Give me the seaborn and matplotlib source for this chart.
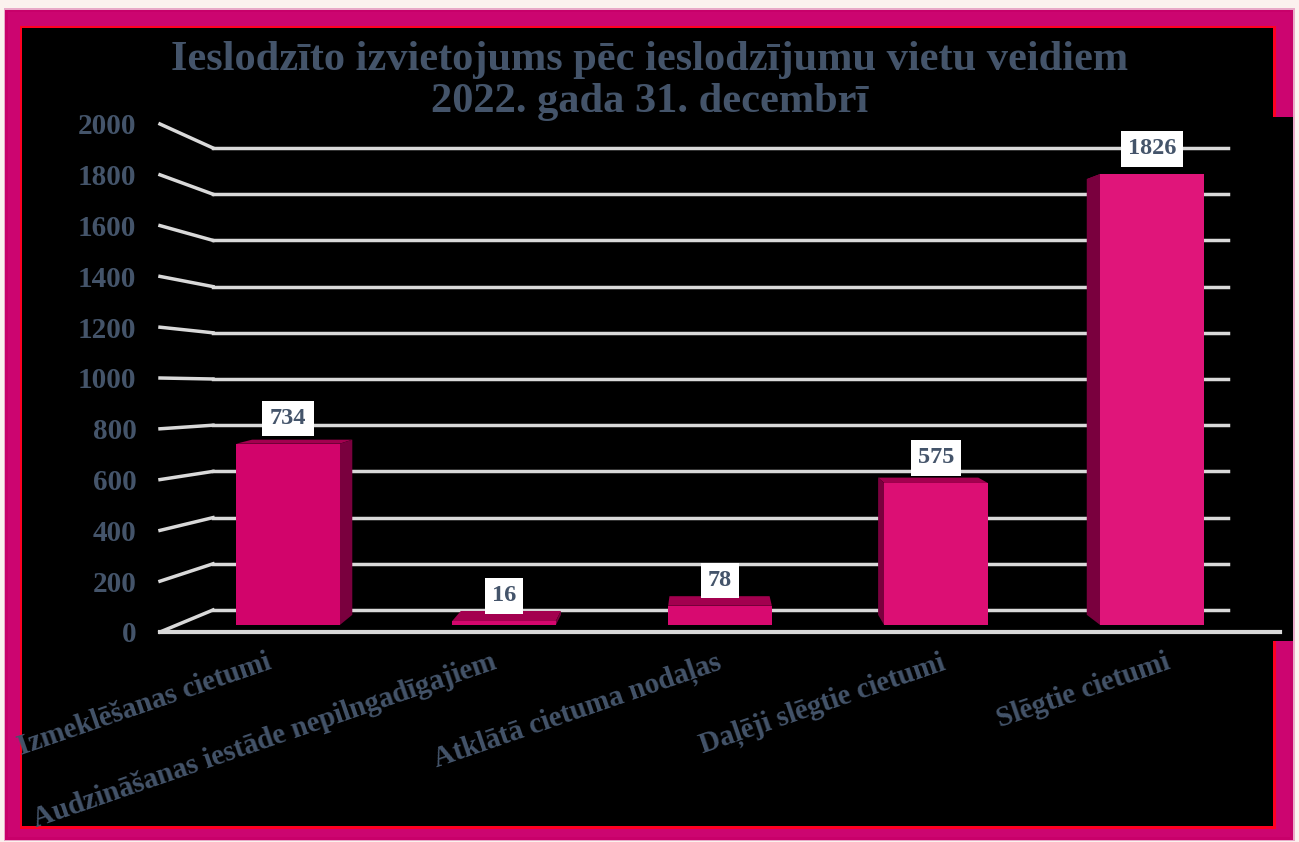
import matplotlib
matplotlib.use("Agg")
import matplotlib.pyplot as plt
from matplotlib.patches import Rectangle, Polygon
from matplotlib.lines import Line2D
from matplotlib.transforms import ScaledTranslation
import seaborn as sns

# Dati
categories = ["Izmeklēšanas cietumi",
              "Audzināšanas iestāde nepilngadīgajiem",
              "Atklātā cietuma nodaļas",
              "Daļēji slēgtie cietumi",
              "Slēgtie cietumi"]
counts = [734, 16, 78, 575, 1826]
y_ticks = [0, 200, 400, 600, 800, 1000, 1200, 1400, 1600, 1800, 2000]
title = "Ieslodzīto izvietojums pēc ieslodzījumu vietu veidiem\n2022. gada 31. decembrī"

bar_colors = ["#D2046B", "#D5066D", "#D80A70", "#DC0F74", "#E0157A"]
side_color = "#7A003E"
top_color = "#A3004F"
text_color = "#44546A"
grid_color = "#D9D9D9"

plt.rcParams['font.family'] = ['Liberation Serif', 'DejaVu Serif']

W, H = 1299, 842
fig = plt.figure(figsize=(W / 100, H / 100), dpi=100, facecolor="#FBF1EE")


def rect(x0, y0, x1, y1):
    # pikseļi (augšējais kreisais stūris) -> figūras daļas
    return [x0 / W, 1 - y1 / H, (x1 - x0) / W, (y1 - y0) / H]


def add_box(x0, y0, x1, y1, color):
    l, b, w, h = rect(x0, y0, x1, y1)
    fig.add_artist(Rectangle((l, b), w, h, transform=fig.transFigure,
                             facecolor=color, edgecolor="none", zorder=0))


# Rāmis
add_box(4, 8, 1295, 841, "#E9A9C8")
add_box(5, 10, 1293, 840, "#C8006A")
add_box(8, 12, 1290, 837, "#CC0570")
add_box(20, 26, 1276, 829, "#FF0022")
add_box(22, 28, 1273, 826, "black")
add_box(1200, 117, 1293, 641, "black")

# Aizmugurējā siena ar režģa līnijām
ax_back = fig.add_axes(rect(213, 148, 1228, 610))
ax_back.set_facecolor("none")
ax_back.set_ylim(0, 2000)
for v in y_ticks:
    ax_back.axhline(v, color=grid_color, lw=2.5, clip_on=False)
ax_back.set_xticks([])
ax_back.set_yticks([])
for s in ax_back.spines.values():
    s.set_visible(False)

# Priekšējā ass ar skaitļiem
ax_front = fig.add_axes(rect(160, 124, 1280, 632))
ax_front.set_facecolor("none")
ax_front.set_ylim(0, 2000)
ax_front.set_yticks(y_ticks)
ax_front.set_yticklabels([str(v) for v in y_ticks], fontsize=21,
                         fontweight="bold", color=text_color)
ax_front.tick_params(axis="y", length=0, pad=17)
ax_front.set_xticks([])
for name, s in ax_front.spines.items():
    s.set_visible(name == "bottom")
ax_front.spines["bottom"].set_color(grid_color)
ax_front.spines["bottom"].set_linewidth(3)

# Slīpās līnijas no priekšas uz aizmuguri
inv = fig.transFigure.inverted()
for v in y_ticks:
    x0 = ax_front.transAxes.transform((0, 0))[0]
    y0 = ax_front.transData.transform((0, v))[1]
    x1 = ax_back.transAxes.transform((0, 0))[0]
    y1 = ax_back.transData.transform((0, v))[1]
    (fx0, fy0), (fx1, fy1) = inv.transform([(x0, y0), (x1, y1)])
    fig.add_artist(Line2D([fx0, fx1], [fy0, fy1], transform=fig.transFigure,
                          color=grid_color, lw=2.5))

# Stabiņi
ax_bar = fig.add_axes(rect(180, 131, 1260, 625))
ax_bar.set_facecolor("none")
sns.barplot(x=categories, y=counts, hue=categories, palette=bar_colors,
            width=0.48, saturation=1, legend=False, ax=ax_bar)
ax_bar.set_ylim(0, 2000)
ax_bar.set_xlim(-0.5, 4.5)
ax_bar.set_yticks([])
ax_bar.set_xlabel("")
ax_bar.set_ylabel("")
for s in ax_bar.spines.values():
    s.set_visible(False)

# 3D efekts: sānu un augšējās skaldnes
VX, VY = 706, H - 325
depth = 0.034


def back(px, py):
    return (px + depth * (VX - px), py + depth * (VY - py))


to_data = ax_bar.transData.inverted()
for p in list(ax_bar.patches):
    p.set_zorder(3)
    (fx0, fy0) = ax_bar.transData.transform((p.get_x(), 0))
    (fx1, fy1) = ax_bar.transData.transform((p.get_x() + p.get_width(), p.get_height()))
    top = [(fx0, fy1), (fx1, fy1), back(fx1, fy1), back(fx0, fy1)]
    ax_bar.add_patch(Polygon(to_data.transform(top), closed=True, facecolor=top_color,
                             edgecolor="none", zorder=2, clip_on=False))
    cx = (fx0 + fx1) / 2
    if abs(cx - VX) > 20:
        xe = fx1 if cx < VX else fx0
        side = [(xe, fy0), (xe, fy1), back(xe, fy1), back(xe, fy0)]
        ax_bar.add_patch(Polygon(to_data.transform(side), closed=True, facecolor=side_color,
                                 edgecolor="none", zorder=2, clip_on=False))
    ax_bar.annotate(f"{p.get_height():.0f}", xy=(p.get_x() + p.get_width() / 2, p.get_height()),
                    xytext=(0, 10.5), textcoords="offset points", ha="center", va="bottom",
                    fontsize=17.5, fontweight="bold", color=text_color, zorder=5,
                    bbox=dict(boxstyle="square,pad=0.3", facecolor="white", edgecolor="none"))

# Kategoriju nosaukumi (priekšējā plaknē, nedaudz izplesti perspektīvā)
ax_bar.set_xticks(range(len(categories)))
ax_bar.set_xticklabels(categories, rotation=19, ha="right", va="top",
                       rotation_mode="anchor", fontsize=21, fontweight="bold",
                       color=text_color)
ax_bar.tick_params(axis="x", length=0, pad=17)
for i, lab in enumerate(ax_bar.get_xticklabels()):
    cx = ax_bar.transData.transform((i, 0))[0]
    dx = (cx - VX) * 0.04 - 5
    lab.set_transform(lab.get_transform() + ScaledTranslation(dx / 100, 0, fig.dpi_scale_trans))

fig.text(650 / W, 1 - 81 / H, title, ha="center", va="center", fontsize=30.5,
         fontweight="bold", color=text_color, linespacing=1.12)

fig.savefig("out.png", dpi=100, facecolor=fig.get_facecolor())
